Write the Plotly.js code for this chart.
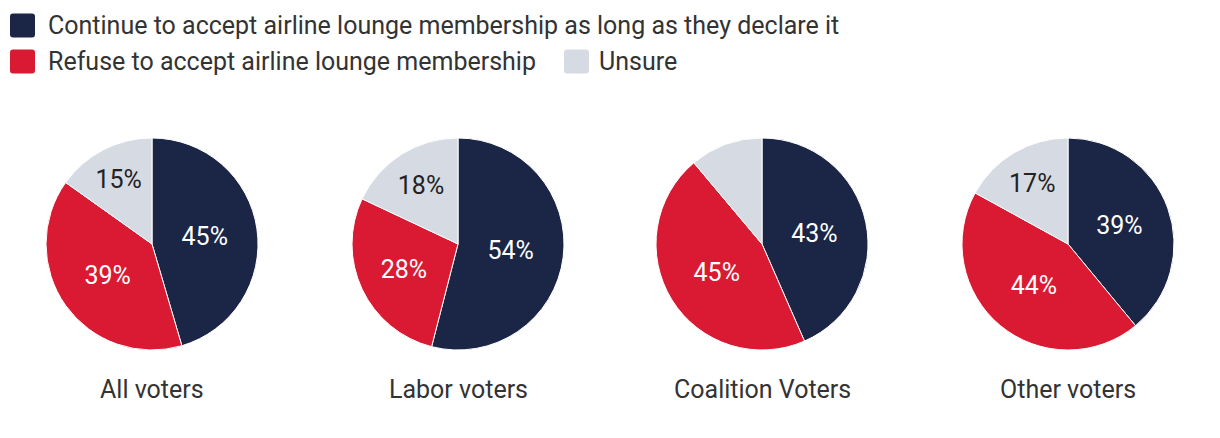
<!DOCTYPE html>
<html>
<head>
<meta charset="utf-8">
<script src="https://cdn.plot.ly/plotly-3.0.1.min.js"></script>
<style>html,body{margin:0;padding:0;background:#fff}#chart{width:1220px;height:438px}</style>
</head>
<body>
<div id="chart"></div>
<script>
const responses = ["Continue to accept airline lounge membership as long as they declare it", "Refuse to accept airline lounge membership", "Unsure"];
const groups = ["All voters", "Labor voters", "Coalition Voters", "Other voters"];
const allVoters = [45, 39, 15];
const laborVoters = [54, 28, 18];
const coalitionVoters = [43, 45, 11];
const otherVoters = [39, 44, 17];
const showLabels = [[true, true, true], [true, true, true], [true, true, false], [true, true, true]];

const colors = ["#1b2646", "#da1a32", "#d6dae3"];
const textColors = ["#ffffff", "#ffffff", "#222222"];
const FONT = "Roboto, sans-serif";
const W = 1220, H = 438;
const series = [allVoters, laborVoters, coalitionVoters, otherVoters];
const centersPx = [152, 458, 762, 1068];
const cyPx = 244, R = 106;

const traces = series.map((vals, i) => ({
  type: "pie",
  values: vals,
  labels: responses,
  text: vals.map((v, j) => showLabels[i][j] ? v + "%" : ""),
  textinfo: "text",
  textposition: "inside",
  insidetextorientation: "horizontal",
  textfont: {family: FONT, size: 25, color: textColors},
  sort: false,
  direction: "clockwise",
  rotation: 0,
  marker: {colors: colors, line: {color: "#ffffff", width: 1}},
  domain: {
    x: [(centersPx[i] - R) / W, (centersPx[i] + R) / W],
    y: [1 - (cyPx + R) / H, 1 - (cyPx - R) / H]
  },
  showlegend: false,
  hoverinfo: "label+value"
}));

const annotations = groups.map((g, i) => ({
  text: g, x: centersPx[i] / W, y: 1 - 389 / H, xref: "paper", yref: "paper",
  xanchor: "center", yanchor: "middle", showarrow: false,
  font: {family: FONT, size: 25, color: "#333333"}
}));

// manual legend
const legendItems = [
  {sq: 10, tx: 46, y: 25.5},
  {sq: 10, tx: 46, y: 61.5},
  {sq: 564, tx: 597, y: 61.5}
];
function roundRect(x0, y0, x1, y1, r) {
  const px = x => (x / W).toFixed(5);
  const py = y => (1 - y / H).toFixed(5);
  return `M${px(x0 + r)},${py(y0)} L${px(x1 - r)},${py(y0)} Q${px(x1)},${py(y0)} ${px(x1)},${py(y0 + r)} ` +
    `L${px(x1)},${py(y1 - r)} Q${px(x1)},${py(y1)} ${px(x1 - r)},${py(y1)} L${px(x0 + r)},${py(y1)} ` +
    `Q${px(x0)},${py(y1)} ${px(x0)},${py(y1 - r)} L${px(x0)},${py(y0 + r)} Q${px(x0)},${py(y0)} ${px(x0 + r)},${py(y0)} Z`;
}
const shapes = legendItems.map((it, i) => ({
  type: "path", xref: "paper", yref: "paper",
  path: roundRect(it.sq, it.y - 12, it.sq + 25, it.y + 12, 3),
  fillcolor: colors[i], line: {width: 0}
}));
legendItems.forEach((it, i) => annotations.push({
  text: responses[i], x: it.tx / W, y: 1 - it.y / H, xref: "paper", yref: "paper",
  xanchor: "left", yanchor: "middle", showarrow: false,
  font: {family: FONT, size: 25, color: "#333333"}
}));

Plotly.newPlot("chart", traces, {
  width: W, height: H,
  margin: {l: 0, r: 0, t: 0, b: 0},
  paper_bgcolor: "#ffffff",
  annotations: annotations,
  shapes: shapes,
  showlegend: false
}, {displayModeBar: false, staticPlot: true});
</script>
</body>
</html>
